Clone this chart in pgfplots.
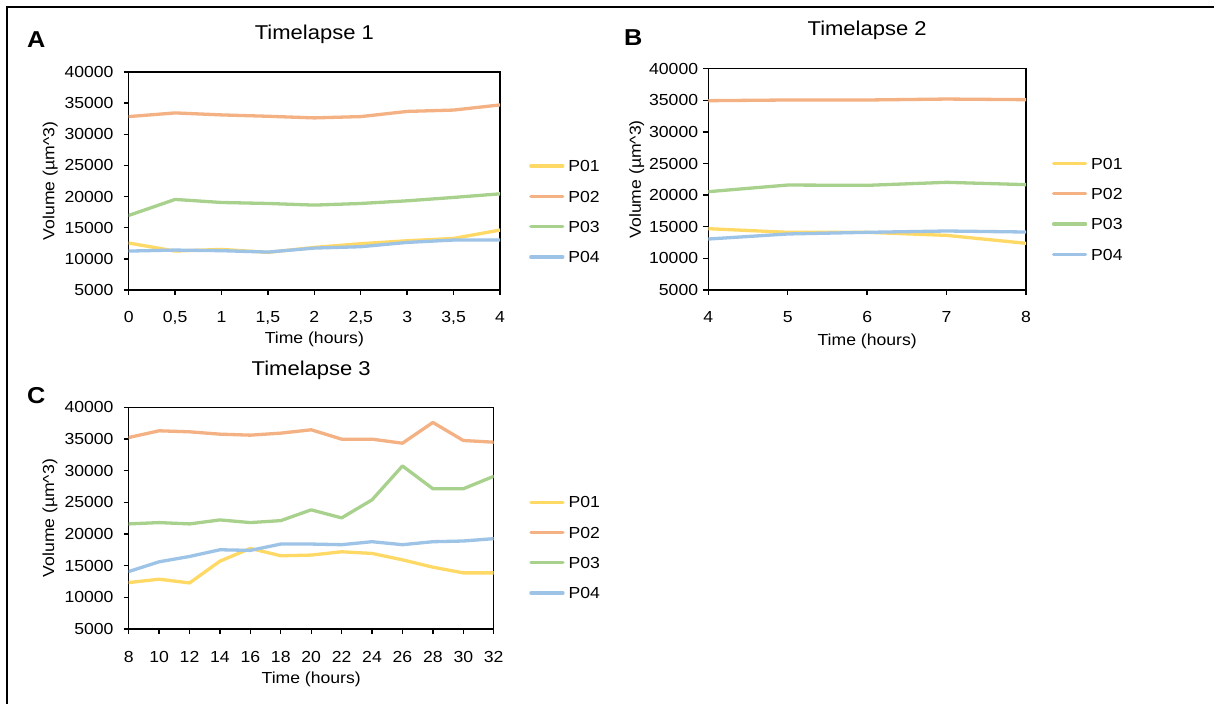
\documentclass[border=0pt]{standalone}
\usepackage{fontspec}
\setmainfont{Liberation Sans}[FakeStretch=1.1]
\usepackage{pgfplots}
\pgfplotsset{compat=1.18}
\definecolor{cPa}{HTML}{FFD966}
\definecolor{cPb}{HTML}{F4B183}
\definecolor{cPc}{HTML}{A9D18E}
\definecolor{cPd}{HTML}{9DC3E6}
\newcommand{\sm}{\fontsize{16}{19}\selectfont}
\pgfplotsset{
  panel/.style={
    scale only axis,
    axis line style={line width=1.4pt, black},
    every tick/.style={line width=1.4pt, black},
    major tick length=5pt,
    tick align=outside,
    tick pos=left,
    ymin=5000, ymax=40000, ytick={5000,10000,...,40000},
    scaled y ticks=false, scaled x ticks=false,
    /pgf/number format/assume math mode=true,
    /pgf/number format/use comma,
    /pgf/number format/1000 sep={},
    tick label style={font=\sm},
    yticklabel style={anchor=east, inner sep=0pt, xshift=-10pt},
    xticklabel style={anchor=base, inner sep=0pt, yshift=-28pt},
    label style={font=\sm, inner sep=0pt},
    xlabel={Time (hours)},
    ylabel={Volume (µm\textasciicircum 3)},
    title style={font=\fontsize{20}{24}\selectfont, anchor=base, inner sep=0pt},
    every axis plot/.append style={line width=3.3pt, line join=round, line cap=round, no markers},
    legend image code/.code={\draw[#1] (0pt,0pt) -- (32pt,0pt);},
    legend cell align=left,
    legend style={draw=none, fill=none, inner sep=0pt, anchor=north west,
      row sep=18.8pt, column sep=4pt, font=\sm,
      nodes={inner sep=0pt, text height=11.5pt, text depth=0pt}},
  }
}
\begin{document}
\begin{tikzpicture}[x=1pt,y=1pt]
\path[use as bounding box] (0,0) rectangle (1214,704);
\draw[line width=2pt] (7,0) -- (7,697) -- (1214,697);
\node[anchor=base west, inner sep=0pt, font=\bfseries\fontsize{23}{27}\selectfont] at (27,656) {A};
\node[anchor=base west, inner sep=0pt, font=\bfseries\fontsize{23}{27}\selectfont] at (624,658) {B};
\node[anchor=base west, inner sep=0pt, font=\bfseries\fontsize{23}{27}\selectfont] at (27,300) {C};

% Panel A
\begin{axis}[panel, at={(128.7pt,414pt)}, anchor=south west,
  width=371.3pt, height=218pt,
  xmin=0, xmax=4, xtick={0,0.5,...,4},
  title={Timelapse 1}, title style={at={(0.5,1.1193)}},
  xlabel style={at={(0.5,-0.2477)}, anchor=base},
  ylabel style={at={(-0.2005,0.5)}, anchor=base},
  legend style={at={(1.078,0.596)}}]
\addplot[cPa] coordinates {(0,12540) (0.5,11250) (1,11520) (1.5,11040) (2,11840) (2.5,12430) (3,12910) (3.5,13280) (4,14620)};
\addplot[cPb] coordinates {(0,32840) (0.5,33430) (1,33110) (1.5,32890) (2,32630) (2.5,32840) (3,33670) (3.5,33890) (4,34710)};
\addplot[cPc] coordinates {(0,16970) (0.5,19540) (1,19050) (1.5,18890) (2,18630) (2.5,18890) (3,19320) (3.5,19860) (4,20440)};
\addplot[cPd] coordinates {(0,11250) (0.5,11410) (1,11310) (1.5,11090) (2,11730) (2.5,11950) (3,12640) (3.5,13020) (4,13020)};
\legend{P01,P02,P03,P04}
\end{axis}

% Panel B
\begin{axis}[panel, at={(708.3pt,414pt)}, anchor=south west,
  width=317.7pt, height=221.3pt,
  xmin=4, xmax=8, xtick={4,5,6,7,8},
  yticklabel style={xshift=5pt},
  title={Timelapse 2}, title style={at={(0.5,1.122)}},
  xlabel style={at={(0.5,-0.249)}, anchor=base},
  ylabel style={at={(-0.212,0.5)}, anchor=base},
  legend style={at={(1.081,0.5985)}}]
\addplot[cPa] coordinates {(4,14700) (5,14120) (6,14120) (7,13640) (8,12380)};
\addplot[cPb] coordinates {(4,34940) (5,35050) (6,35050) (7,35200) (8,35100)};
\addplot[cPc] coordinates {(4,20550) (5,21600) (6,21550) (7,22030) (8,21660)};
\addplot[cPd] coordinates {(4,13060) (5,13860) (6,14120) (7,14330) (8,14170)};
\legend{P01,P02,P03,P04}
\end{axis}

% Panel C
\begin{axis}[panel, at={(128.7pt,75pt)}, anchor=south west,
  width=365pt, height=221.7pt,
  xmin=8, xmax=32, xtick={8,10,...,32},
  title={Timelapse 3}, title style={at={(0.5,1.1173)}},
  xlabel style={at={(0.5,-0.2436)}, anchor=base},
  ylabel style={at={(-0.204,0.5)}, anchor=base},
  legend style={at={(1.097,0.599)}}]
\addplot[cPa] coordinates {(8,12330) (10,12860) (12,12270) (14,15710) (16,17720) (18,16560) (20,16670) (22,17190) (24,16930) (26,15920) (28,14760) (30,13860) (32,13860)};
\addplot[cPb] coordinates {(8,35230) (10,36290) (12,36130) (14,35760) (16,35600) (18,35920) (20,36450) (22,34970) (24,34970) (26,34330) (28,37610) (30,34760) (32,34490)};
\addplot[cPc] coordinates {(8,21590) (10,21800) (12,21590) (14,22220) (16,21800) (18,22110) (20,23810) (22,22540) (24,25390) (26,30740) (28,27140) (30,27140) (32,29100)};
\addplot[cPd] coordinates {(8,14070) (10,15610) (12,16450) (14,17510) (16,17410) (18,18410) (20,18410) (22,18310) (24,18780) (26,18310) (28,18780) (30,18890) (32,19260)};
\legend{P01,P02,P03,P04}
\end{axis}
\end{tikzpicture}
\end{document}
